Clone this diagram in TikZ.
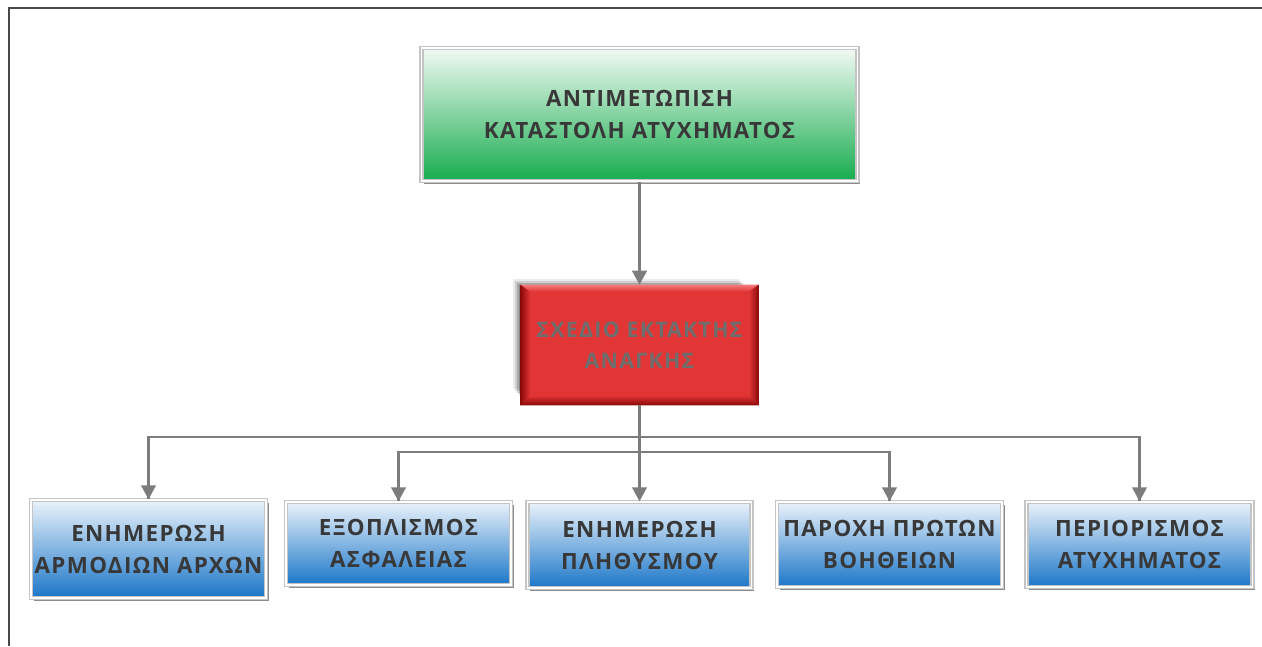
\documentclass[tikz,border=0pt]{standalone}
\usepackage{fontspec}
\setmainfont{Open Sans}[LetterSpace=6]
\usetikzlibrary{arrows.meta,shadows}
\definecolor{frameC}{HTML}{4A4A4A}
\definecolor{connC}{HTML}{7C7C7C}
\definecolor{greenTop}{HTML}{F2FAF4}
\definecolor{greenBot}{HTML}{16AC4E}
\definecolor{blueTop}{HTML}{EAF3FB}
\definecolor{blueBot}{HTML}{1B76C8}
\definecolor{redMain}{HTML}{E23535}
\definecolor{redDark}{HTML}{8A0808}
\definecolor{redLight}{HTML}{F47A7A}
\definecolor{txtDark}{HTML}{383838}
\definecolor{txtGray}{HTML}{6E6E6E}
\definecolor{borderC}{HTML}{C4C4C4}
\begin{document}
\begin{tikzpicture}[x=0.75pt,y=-0.75pt,
  frame/.style={draw=frameC,line width=1.5pt},
  conn/.style={draw=connC,line width=1.6pt,-{Triangle[width=11pt,length=10.5pt]}},
  connline/.style={draw=connC,line width=1.6pt},
  boxbase/.style={rectangle,inner sep=0pt,align=center,
    draw=borderC,double=white,double distance=0.9pt,line width=1.1pt,
    drop shadow={shadow xshift=2.2pt,shadow yshift=-2.2pt,opacity=0.45,fill=black},
    font=\bfseries\fontsize{16.8}{24}\selectfont,text=txtDark},
  gbox/.style={boxbase,top color=greenTop,bottom color=greenBot},
  bbox/.style={boxbase,top color=blueTop,bottom color=blueBot},
  rbox/.style={rectangle,inner sep=0pt,align=center,fill=redMain,
    font=\bfseries\fontsize{16}{23.5}\selectfont,text=txtGray}
]
\useasboundingbox (0,0) rectangle (1262,646);
\fill[white] (0,0) rectangle (1262,646);
\draw[frame] (1262,8) -- (9,8) -- (9,646);

\node[gbox,minimum width=327pt,minimum height=99.75pt] (top) at (639.5,114.5)
  {ΑΝΤΙΜΕΤΩΠΙΣΗ\\ΚΑΤΑΣΤΟΛΗ ΑΤΥΧΗΜΑΤΟΣ};

% blurred shadow of the red box (up-left)
\foreach \d/\o in {0/0.2,2/0.2,4/0.18,6/0.12,8/0.08}{
  \fill[black,opacity=\o] (519-\d+2,285-\d+2) rectangle (753-\d-6,403-\d-6);
}
\node[rbox,minimum width=178.5pt,minimum height=90pt] (red) at (639.5,345) {};
\shade[top color=redLight,bottom color=redMain] (red.north west) -- (red.north east) -- ++(-10,7) -- ([shift={(10,7)}]red.north west) -- cycle;
\shade[top color=redMain,bottom color=redDark] (red.south west) -- (red.south east) -- ++(-10,-10) -- ([shift={(10,-10)}]red.south west) -- cycle;
\shade[left color=redDark,right color=redMain] (red.north west) -- (red.south west) -- ++(10,-10) -- ([shift={(10,7)}]red.north west) -- cycle;
\shade[left color=redMain,right color=redDark] (red.north east) -- (red.south east) -- ++(-10,-10) -- ([shift={(-10,7)}]red.north east) -- cycle;
\node[rbox,fill=none] (redtxt) at (red.center) {ΣΧΕΔΙΟ ΕΚΤΑΚΤΗΣ\\ΑΝΑΓΚΗΣ};

\node[bbox,minimum width=176.25pt,minimum height=73.5pt] (b1) at (148.5,549)
  {ΕΝΗΜΕΡΩΣΗ\\ΑΡΜΟΔΙΩΝ ΑΡΧΩΝ};
\node[bbox,minimum width=168.75pt,minimum height=62.25pt] (b2) at (398.5,543.5)
  {ΕΞΟΠΛΙΣΜΟΣ\\ΑΣΦΑΛΕΙΑΣ};
\node[bbox,minimum width=168pt,minimum height=64.5pt] (b3) at (639.5,545)
  {ΕΝΗΜΕΡΩΣΗ\\ΠΛΗΘΥΣΜΟΥ};
\node[bbox,minimum width=168.75pt,minimum height=63.75pt] (b4) at (889.5,544.5)
  {ΠΑΡΟΧΗ ΠΡΩΤΩΝ\\ΒΟΗΘΕΙΩΝ};
\node[bbox,minimum width=169.5pt,minimum height=63.75pt] (b5) at (1139.5,544.5)
  {ΠΕΡΙΟΡΙΣΜΟΣ\\ΑΤΥΧΗΜΑΤΟΣ};

\coordinate (h1) at (0,437);
\coordinate (h2) at (0,452);

\draw[conn] (top.south) -- (red.north);
\draw[conn] (red.south) -- (b3.north);
\draw[connline] (red.south |- h1) -| (b1.north);
\draw[conn] (b1.north |- h1) -- (b1.north);
\draw[connline] (red.south |- h1) -| (b5.north);
\draw[conn] (b5.north |- h1) -- (b5.north);
\draw[connline] (red.south |- h2) -| (b2.north);
\draw[conn] (b2.north |- h2) -- (b2.north);
\draw[connline] (red.south |- h2) -| (b4.north);
\draw[conn] (b4.north |- h2) -- (b4.north);
\end{tikzpicture}
\end{document}
